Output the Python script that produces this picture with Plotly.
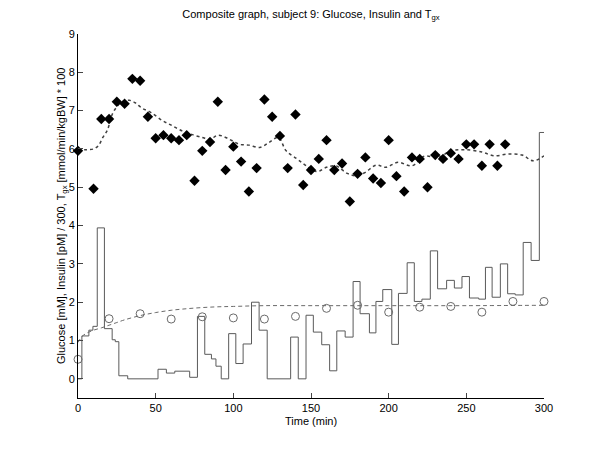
import plotly.graph_objects as go

# Glucose measurements (diamonds)
glu_t = [0, 10, 15, 20, 25, 30, 35, 40, 45, 50, 55, 60, 65, 70, 75, 80, 85, 90, 95, 100,
         105, 110, 115, 120, 125, 130, 135, 140, 145, 150, 155, 160, 165, 170, 175, 180,
         185, 190, 195, 200, 205, 210, 215, 220, 225, 230, 235, 240, 245, 250, 255, 260,
         265, 270, 275]
glu_v = [5.95, 4.96, 6.78, 6.78, 7.23, 7.18, 7.83, 7.78, 6.84, 6.28, 6.36, 6.28, 6.23, 6.36,
         5.17, 5.95, 6.18, 7.23, 5.45, 6.06, 5.67, 4.89, 5.50, 7.29, 6.84, 6.34, 5.50, 6.90,
         5.06, 5.45, 5.74, 6.23, 5.45, 5.62, 4.63, 5.35, 5.78, 5.23, 5.11, 6.23, 5.29, 4.89,
         5.78, 5.74, 5.00, 5.84, 5.74, 5.89, 5.74, 6.12, 6.12, 5.56, 6.12, 5.56, 6.12]

# Tgx (dotted line)
tgx_t = [0, 5, 10, 13, 16, 19, 22, 25, 28, 33, 37, 41, 47, 54, 60, 67, 73, 80, 85, 90, 95,
         99, 104, 110, 117, 123, 129, 134, 141, 147, 154, 160, 166, 173, 179, 185, 192, 198,
         206, 215, 223, 232, 240, 249, 260, 268, 277, 286, 293, 300]
tgx_v = [5.97, 5.98, 6.00, 6.08, 6.30, 6.50, 6.90, 7.10, 7.22, 7.27, 7.20, 7.07, 6.95, 6.75,
         6.62, 6.47, 6.38, 6.30, 6.25, 6.36, 6.30, 6.22, 6.12, 6.10, 6.04, 6.17, 6.30, 5.95,
         5.74, 5.56, 5.41, 5.52, 5.56, 5.37, 5.30, 5.39, 5.58, 5.52, 5.65, 5.56, 5.81, 5.78,
         5.95, 5.98, 5.92, 5.82, 5.87, 5.84, 5.69, 5.82]

# Insulin infusion / 300 (step line)
ins_t = [0, 2.5, 7, 9.6, 12.4, 17, 22, 24, 26.3, 32, 51.5, 56.9, 62.3, 71.9, 76.9, 81.6, 85.9,
         88.8, 92.2, 97, 101.6, 106.3, 111.7, 116.6, 121.8, 136.9, 141.8, 146.8, 151.5, 156.9,
         162, 166.6, 172, 177.1, 181.6, 187.6, 191.8, 196.2, 202, 206.3, 211.9, 216.5, 221.4,
         226.8, 231.5, 237.3, 242.3, 247.2, 252, 258, 262.3, 266.6, 271.9, 276.6, 281.5, 286.6,
         291.7, 297, 300]
ins_v = [0.0, 1.12, 1.27, 1.37, 3.94, 1.31, 1.02, 0.97, 0.08, 0.0, 0.25, 0.15, 0.2, 0.04, 1.63,
         0.64, 0.52, 0.33, 0.0, 1.18, 0.40, 0.91, 2.0, 1.27, 0.0, 1.09, 0.0, 1.66, 1.22, 0.89,
         0.21, 1.25, 1.09, 2.54, 1.70, 1.20, 2.02, 2.33, 0.90, 2.23, 3.03, 2.02, 2.08, 3.34,
         2.35, 2.57, 2.37, 2.67, 2.11, 2.08, 2.91, 2.13, 3.0, 2.22, 2.19, 3.56, 3.09, 6.43, 6.43]

# Plasma insulin measurements (circles)
pins_t = [0, 20, 40, 60, 80, 100, 120, 140, 160, 180, 200, 220, 240, 260, 280, 300]
pins_v = [0.51, 1.57, 1.70, 1.56, 1.62, 1.59, 1.56, 1.63, 1.84, 1.92, 1.74, 1.87, 1.89, 1.74,
          2.02, 2.02]

# Insulin model curve (dashed)
fit_t = [0, 2.5, 5, 10, 15, 20, 25, 30, 40, 50, 60, 70, 80, 90, 100, 120, 150, 200, 250, 300]
fit_v = [0.95, 1.10, 1.18, 1.27, 1.33, 1.40, 1.47, 1.54, 1.65, 1.73, 1.79, 1.83, 1.86, 1.88,
         1.89, 1.91, 1.91, 1.91, 1.91, 1.92]

x_ticks = [0, 50, 100, 150, 200, 250, 300]
y_ticks = [0, 1, 2, 3, 4, 5, 6, 7, 8, 9]

fig = go.Figure()
fig.add_trace(go.Scatter(x=ins_t, y=ins_v, mode="lines", line=dict(shape="hv", color="#5a5a5a", width=1)))
fig.add_trace(go.Scatter(x=fit_t, y=fit_v, mode="lines", line=dict(shape="spline", color="#6a6a6a", width=1, dash="4px,3px")))
fig.add_trace(go.Scatter(x=pins_t, y=pins_v, mode="markers", cliponaxis=False,
                         marker=dict(symbol="circle-open", size=8, color="#6a6a6a", line=dict(width=1))))
fig.add_trace(go.Scatter(x=tgx_t, y=tgx_v, mode="lines", line=dict(shape="spline", color="#404040", width=1.5, dash="dot")))
fig.add_trace(go.Scatter(x=glu_t, y=glu_v, mode="markers", cliponaxis=False,
                         marker=dict(symbol="diamond", size=8, color="black")))

font = "Liberation Sans, Arial, sans-serif"
fig.update_layout(
    width=592, height=442,
    paper_bgcolor="white", plot_bgcolor="white",
    showlegend=False,
    margin=dict(l=70, r=56, t=26, b=52, autoexpand=False),
    font=dict(family=font, size=11, color="black"),
    title=dict(text="Composite graph, subject 9: Glucose, Insulin and T<sub>gx</sub>",
               x=(311 - 8) / 592, xanchor="center", y=0.995, yanchor="top", automargin=False,
               font=dict(size=11)),
    xaxis=dict(range=[0, 300], tickvals=x_ticks, ticks="inside", ticklen=5, showgrid=False,
               zeroline=False, showline=True, linecolor="black", linewidth=1, automargin=False),
    yaxis=dict(range=[-0.5, 9], tickvals=y_ticks, ticks="inside", ticklen=5, showgrid=False,
               zeroline=False, showline=True, linecolor="black", linewidth=1, automargin=False),
    annotations=[
        dict(text="Time (min)", xref="paper", yref="paper", x=0.5, y=-23 / 364,
             xanchor="center", yanchor="middle", showarrow=False, font=dict(size=11)),
        dict(text="Glucose [mM], Insulin [pM] / 300, T<sub>gx</sub> [mmol/min/kgBW] * 100",
             xref="paper", yref="paper", x=-16 / 466, y=0.5, textangle=-90,
             xanchor="center", yanchor="middle", showarrow=False, font=dict(size=11)),
    ],
)
fig.write_html("out.html")
